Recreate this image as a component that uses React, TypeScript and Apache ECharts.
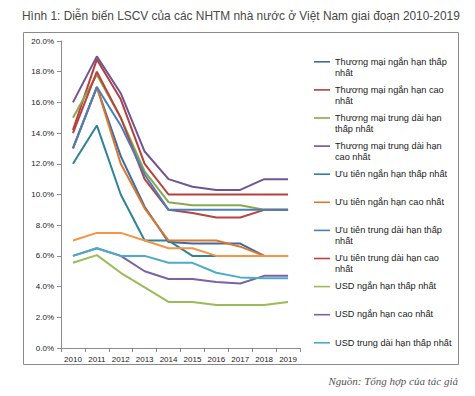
import React, { useEffect, useRef } from "react";
import * as echarts from "echarts";

const years = ["2010", "2011", "2012", "2013", "2014", "2015", "2016", "2017", "2018", "2019"];
const yTicks = [0, 2, 4, 6, 8, 10, 12, 14, 16, 18, 20];

const seriesNames = [
  "Thương mại ngắn hạn thấp nhất",
  "Thương mại ngắn hạn cao nhất",
  "Thương mại trung dài hạn thấp nhất",
  "Thương mại trung dài hạn cao nhất",
  "Ưu tiên ngắn hạn thấp nhất",
  "Ưu tiên ngắn hạn cao nhất",
  "Ưu tiên trung dài hạn thấp nhất",
  "Ưu tiên trung dài hạn cao nhất",
  "USD ngắn hạn thấp nhất",
  "USD ngắn hạn cao nhất",
  "USD trung dài hạn thấp nhất",
  "USD trung dài hạn cao nhất",
];

const legendLabels = [
  "Thương mại ngắn hạn thấp\nnhất",
  "Thương mại ngắn hạn cao\nnhất",
  "Thương mại trung dài hạn\nthấp nhất",
  "Thương mại trung dài hạn\ncao nhất",
  "Ưu tiên ngắn hạn thấp nhất\n ",
  "Ưu tiên ngắn hạn cao nhất\n ",
  "Ưu tiên trung dài hạn thấp\nnhất",
  "Ưu tiên trung dài hạn cao\nnhất",
  "USD ngắn hạn thấp nhất\n ",
  "USD ngắn hạn cao nhất\n ",
  "USD trung dài hạn thấp nhất\n ",
];

const tmNganThap = [13, 17, 12.5, 9.2, 6.9, 6.8, 6.8, 6.8, 6.0, 6.0];
const tmNganCao = [14.2, 18.8, 16.2, 12.0, 10, 10, 10, 10, 10, 10];
const tmTrungThap = [15, 17.8, 15.0, 11.5, 9.5, 9.3, 9.3, 9.3, 9.0, 9.0];
const tmTrungCao = [16, 19, 16.6, 12.8, 11, 10.5, 10.3, 10.3, 11, 11];
const utNganThap = [12, 14.5, 10, 7, 7, 6, 6, 6, 6, 6];
const utNganCao = [13, 17, 12.0, 9.1, 7, 7, 7, 6.6, 6, 6];
const utTrungThap = [13, 17, 14.5, 11.3, 9, 9, 9, 9, 9, 9];
const utTrungCao = [14, 18, 15, 11, 9, 8.8, 8.5, 8.5, 9, 9];
const usdNganThap = [5.55, 6.05, 4.9, 3.95, 3.0, 3.0, 2.8, 2.8, 2.8, 3.0];
const usdNganCao = [6, 6.5, 6.0, 5.0, 4.5, 4.5, 4.3, 4.2, 4.7, 4.7];
const usdTrungThap = [6, 6.5, 6, 6, 5.55, 5.55, 4.9, 4.6, 4.55, 4.55];
const usdTrungCao = [7, 7.5, 7.5, 7.0, 6.5, 6.5, 6.0, 6.0, 6.0, 6.0];

const seriesData = [
  tmNganThap, tmNganCao, tmTrungThap, tmTrungCao,
  utNganThap, utNganCao, utTrungThap, utTrungCao,
  usdNganThap, usdNganCao, usdTrungThap, usdTrungCao,
];

const colors = [
  "#3d6aa3", "#b3403d", "#8aa84c", "#6f5592",
  "#2f8398", "#d9782f", "#4a7ebb", "#b8433f",
  "#9bbb59", "#7e61a1", "#4bacc6", "#f39545",
];

const zOrder = [2, 2, 2, 2, 2, 2, 4, 2, 2, 2, 2, 2];

export default function App() {
  const ref = useRef<HTMLDivElement>(null);
  useEffect(() => {
    if (!ref.current) return;
    const chart = echarts.init(ref.current, undefined, { renderer: "svg" });
    const labelMap: Record<string, string> = {};
    legendLabels.forEach((l, i) => (labelMap[seriesNames[i]] = l));
    chart.setOption({
      animation: false,
      grid: { left: 61, right: 175, top: 41, bottom: 48 },
      xAxis: {
        type: "category",
        data: years,
        boundaryGap: true,
        axisLine: { lineStyle: { color: "#8c8c8c", width: 1 } },
        axisTick: { show: true, length: 4, lineStyle: { color: "#8c8c8c" } },
        axisLabel: { fontSize: 8, color: "#222", margin: 7, fontFamily: "Liberation Sans", interval: 0 },
      },
      yAxis: {
        type: "value",
        min: yTicks[0],
        max: yTicks[yTicks.length - 1],
        interval: 2,
        splitLine: { show: false },
        axisLine: { show: true, lineStyle: { color: "#8c8c8c", width: 1 } },
        axisTick: { show: true, length: 4, lineStyle: { color: "#8c8c8c" } },
        axisLabel: {
          fontSize: 8,
          color: "#222",
          margin: 7,
          fontFamily: "Liberation Sans",
          formatter: (v: number) => v.toFixed(1) + "%",
        },
      },
      legend: {
        orient: "vertical",
        left: 314,
        top: 56,
        padding: 0,
        itemWidth: 16,
        itemHeight: 22,
        itemGap: 6.1,
        icon: "path://M0,0L0,0M0,5L16,5L16,6.6L0,6.6ZM0,22L0,22",
        itemStyle: { borderWidth: 0 },
        data: seriesNames.slice(0, 11),
        formatter: (name: string) => labelMap[name] || name,
        textStyle: { fontSize: 9.2, lineHeight: 11, color: "#1a1a1a", fontFamily: "Liberation Sans" },
        selectedMode: false,
      },
      series: seriesNames.map((name, i) => ({
        name,
        type: "line",
        data: seriesData[i],
        showSymbol: false,
        symbol: "none",
        z: zOrder[i],
        color: colors[i],
        lineStyle: { width: 2, color: colors[i] },
        itemStyle: { color: colors[i] },
      })),
      graphic: [
        {
          type: "text",
          x: 22,
          y: 10,
          style: {
            text: "Hình 1: Diễn biến LSCV của các NHTM nhà nước ở Việt Nam giai đoạn 2010-2019",
            font: "11.9px 'Liberation Sans'",
            fill: "#484848",
          },
        },
        {
          type: "rect",
          shape: { x: 23.5, y: 32.5, width: 435, height: 332 },
          style: { fill: "none", stroke: "#8a8a8a", lineWidth: 1 },
          silent: true,
        },
        {
          type: "text",
          right: 17,
          top: 375,
          style: {
            text: "Nguồn: Tổng hợp của tác giả",
            font: "italic 11px 'Liberation Serif'",
            fill: "#555",
          },
        },
      ],
    });
    return () => chart.dispose();
  }, []);
  return <div ref={ref} style={{ width: 475, height: 396, position: "absolute", left: 0, top: 0 }} />;
}
